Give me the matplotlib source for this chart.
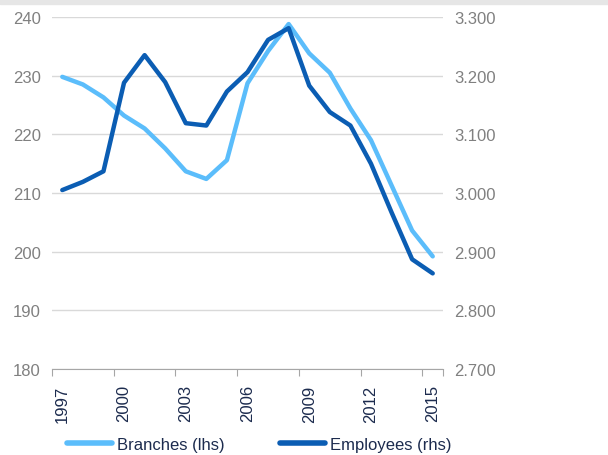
import matplotlib.pyplot as plt
from matplotlib.ticker import FuncFormatter
from matplotlib.patches import Rectangle

plt.rcParams['font.family'] = ['Liberation Sans', 'DejaVu Sans']

# Data
years = list(range(1997, 2016))
branches = [229.8, 228.5, 226.3, 223.2, 221.0, 217.6, 213.7, 212.4, 215.6, 228.7,
            234.2, 238.8, 233.8, 230.5, 224.4, 219.0, 211.3, 203.6, 199.2]
employees = [3005, 3019, 3037, 3188, 3235, 3189, 3119, 3115, 3173, 3206,
             3261, 3281, 3183, 3138, 3115, 3050, 2967, 2887, 2863]
tick_years = [1997, 2000, 2003, 2006, 2009, 2012, 2015]

light = '#5BBDFB'
dark = '#0B5DB3'
grey = '#808080'
navy = '#1C2B4E'

fig = plt.figure(figsize=(6.08, 4.56), dpi=100)
fig.patches.append(Rectangle((0, 0.988), 1, 0.012, transform=fig.transFigure,
                             color='#E6E6E6', zorder=0))
ax = fig.add_axes([52 / 608, 1 - 370 / 456, 391 / 608, 352 / 456])
ax2 = ax.twinx()

x = list(range(len(years)))
ax.plot(x, branches, color=light, linewidth=3.2, solid_capstyle='round',
        label='Branches (lhs)', zorder=3)
ax2.plot(x, employees, color=dark, linewidth=3.2, solid_capstyle='round',
         label='Employees (rhs)', zorder=3)

ax.set_xlim(-0.5, len(years) - 0.5)
ax.set_ylim(180, 240)
ax.set_yticks(range(180, 241, 10))
ax2.set_ylim(2700, 3300)
ax2.set_yticks(range(2700, 3301, 100))
ax2.yaxis.set_major_formatter(FuncFormatter(lambda v, p: f'{v / 1000:.3f}'))

ax.grid(axis='y', color='#D9D9D9', linewidth=1)
ax.set_axisbelow(True)

# Ticks at category boundaries, labels centred on categories
ax.set_xticks([years.index(y) - 0.5 for y in tick_years] + [len(years) - 0.5])
ax.set_xticklabels([])
ax.set_xticks([years.index(y) for y in tick_years], minor=True)
ax.set_xticklabels([str(y) for y in tick_years], minor=True, rotation=90,
                   color=navy, fontsize=12)
ax.tick_params(axis='x', which='major', length=5, color='#A6A6A6', direction='out')
ax.tick_params(axis='x', which='minor', length=0, pad=11)

ax.tick_params(axis='y', length=0, labelsize=12, labelcolor=grey, pad=8)
ax2.tick_params(axis='y', length=0, labelsize=12, labelcolor=grey, pad=8)

for a in (ax, ax2):
    for s in ('top', 'left', 'right'):
        a.spines[s].set_visible(False)
ax2.spines['bottom'].set_visible(False)
ax.spines['bottom'].set_color('#A6A6A6')

h1, l1 = ax.get_legend_handles_labels()
h2, l2 = ax2.get_legend_handles_labels()
leg = fig.legend(h1 + h2, l1 + l2, loc='center', bbox_to_anchor=(0.426, 0.024),
                 ncol=2, frameon=False, fontsize=12, handlelength=2.7,
                 handletextpad=0.3, columnspacing=3.3)
for t in leg.get_texts():
    t.set_color(navy)
for line in leg.get_lines():
    line.set_linewidth(4)

fig.savefig('out.png', dpi=100)
